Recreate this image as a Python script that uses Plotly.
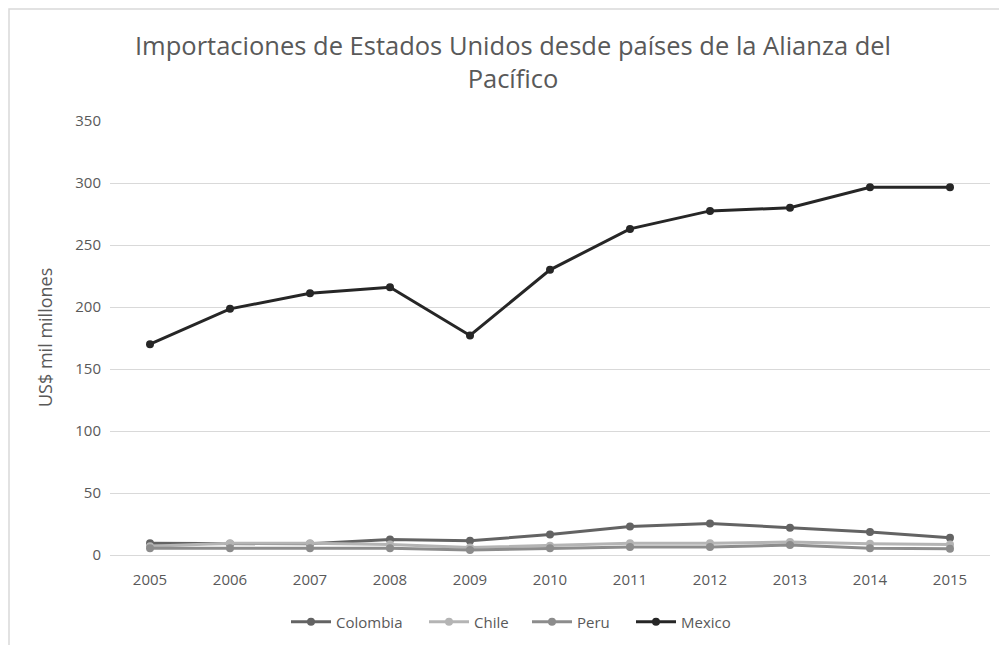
import plotly.graph_objects as go

years = ["2005", "2006", "2007", "2008", "2009", "2010", "2011", "2012", "2013", "2014", "2015"]
colombia = [9.5, 9, 9, 12.5, 11.5, 16.5, 23, 25.5, 22, 18.5, 14]
chile = [7, 9.5, 9.5, 8.5, 6, 7.5, 9.5, 9.5, 10.5, 9, 8.5]
peru = [5.5, 5.5, 5.5, 5.5, 4, 5.5, 6.5, 6.5, 8, 5.5, 5]
mexico = [170, 198.5, 211, 216, 177, 230, 263, 277.5, 280, 296.5, 296.5]

series = [
    ("Colombia", colombia, "#636363"),
    ("Chile", chile, "#b4b4b4"),
    ("Peru", peru, "#8c8c8c"),
    ("Mexico", mexico, "#262626"),
]

# page has an 8px body margin, so figure coords = reference coords - 8
W, H = 999, 637
ml, mr, mt, mb = 102, 17, 113, 90
pw, ph = W - ml - mr, H - mt - mb

legend_left = [278, 416, 519, 623]  # left edge of each legend entry (figure px)
legend_ids = ["legend", "legend2", "legend3", "legend4"]

fig = go.Figure()
for (name, vals, col), lid in zip(series, legend_ids):
    fig.add_trace(go.Scatter(
        x=years, y=vals, name=name, mode="lines+markers",
        line=dict(color=col, width=3),
        marker=dict(color=col, size=8),
        legend=lid,
    ))

legend_layout = {}
for lid, lx in zip(legend_ids, legend_left):
    legend_layout[lid] = dict(
        orientation="h", x=lx / W, xanchor="left", xref="container",
        y=1 - 614 / H, yanchor="middle", yref="container",
        font=dict(size=15, color="#595959"), itemwidth=40,
        bgcolor="rgba(0,0,0,0)",
    )

fig.update_layout(
    width=W, height=H,
    margin=dict(l=ml, r=mr, t=mt, b=mb),
    paper_bgcolor="white", plot_bgcolor="white",
    font=dict(family="Open Sans, Liberation Sans, sans-serif", size=15, color="#595959"),
    title=dict(
        text="Importaciones de Estados Unidos desde países de la Alianza del<br>Pacífico",
        x=505 / W, xanchor="center", xref="container",
        y=1 - 47 / H, yanchor="middle", yref="container",
        font=dict(family="Open Sans, sans-serif", size=25.5, color="#595959"),
    ),
    xaxis=dict(
        type="category", range=[-0.5, 10.5], showgrid=False, showline=False, ticks="",
        tickfont=dict(size=15, color="#595959"), ticklabelstandoff=14,
    ),
    yaxis=dict(
        range=[0, 350], dtick=50, showgrid=True, gridcolor="#d9d9d9", gridwidth=1,
        zeroline=True, zerolinecolor="#d9d9d9", zerolinewidth=1,
        showline=False, ticks="", ticklabelstandoff=8,
        tickfont=dict(size=15, color="#595959"),
    ),
    showlegend=True,
    shapes=[dict(
        type="rect", xref="paper", yref="paper",
        x0=(1 - ml) / pw, x1=(W + 20 - ml) / pw,
        y0=-(H + 20 - (mt + ph)) / ph, y1=(mt + ph - 1) / ph,
        line=dict(color="#d9d9d9", width=1.5), fillcolor="rgba(0,0,0,0)", layer="below",
    )],
    annotations=[dict(
        text="US$ mil millones", textangle=-90,
        xref="paper", yref="paper",
        x=(37 - ml) / pw, y=0.5, xanchor="center", yanchor="middle",
        showarrow=False, font=dict(size=18, color="#595959"),
    )],
    **legend_layout,
)

fig.write_html("out.html")
